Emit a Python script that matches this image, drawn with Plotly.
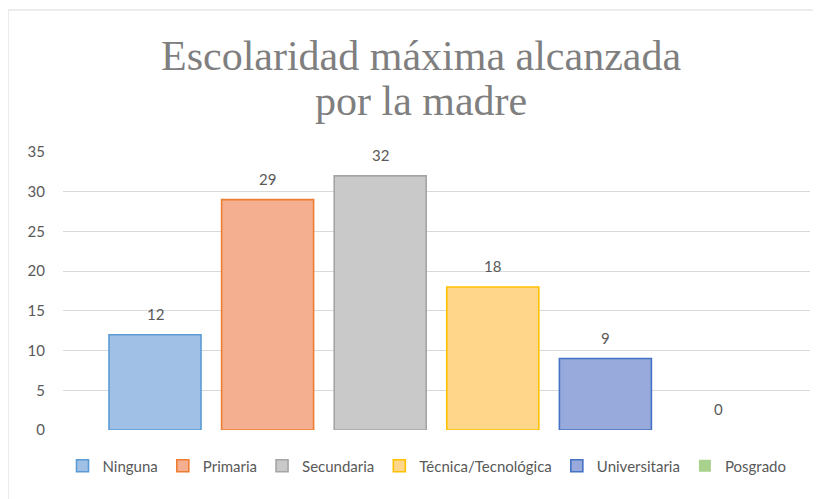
import plotly.graph_objects as go

categories = ["Ninguna", "Primaria", "Secundaria", "Técnica/Tecnológica", "Universitaria", "Posgrado"]
values = [12, 29, 32, 18, 9, 0]
fill_colors = ["#A1C0E5", "#F4AF90", "#C9C9C9", "#FFD68A", "#97AADB", "#A9D18E"]
line_colors = ["#5B9BD5", "#ED7D31", "#A5A5A5", "#FFC000", "#4472C4", "#70AD47"]
y_ticks = [0, 5, 10, 15, 20, 25, 30, 35]
title_lines = ["Escolaridad máxima alcanzada", "por la madre"]

# page has an 8px body margin, so the figure is drawn 8px in from the top-left corner
OFF = 8
W, H = 821 - OFF, 499 - OFF
ml, mt = 63 - OFF, 152 - OFF
mr = W - (810 - OFF)
mb = H - (430 - OFF)
pw, ph = W - ml - mr, H - mt - mb


def px_x(x):  # reference pixel x -> paper x
    return (x - OFF - ml) / pw


def px_y(y):  # reference pixel y -> paper y
    return (H - mb - (y - OFF)) / ph


fig = go.Figure()
for i, (cat, v) in enumerate(zip(categories, values)):
    fig.add_trace(go.Bar(
        x=[cat], y=[v], name=cat,
        marker=dict(color=fill_colors[i], line=dict(color=line_colors[i], width=1.6 if v > 0 else 0)),
        width=0.817,
    ))
    fig.add_annotation(x=cat, y=v, text=str(v), showarrow=False, yshift=21,
                       font=dict(family="Lato, sans-serif", size=15, color="#595959"))

# title as two centered lines
for line, yc in zip(title_lines, [56, 101]):
    fig.add_annotation(xref="paper", yref="paper", x=px_x(421), y=px_y(yc), text=line,
                       showarrow=False, xanchor="center", yanchor="middle",
                       font=dict(family="Liberation Serif, Times New Roman, serif", size=42, color="#7F7F7F"))

# chart border (top and left edges visible)
fig.add_shape(type="line", xref="paper", yref="paper",
              x0=px_x(8), x1=px_x(830), y0=px_y(10), y1=px_y(10),
              line=dict(color="#D9D9D9", width=1))
fig.add_shape(type="line", xref="paper", yref="paper",
              x0=px_x(8), x1=px_x(8), y0=px_y(10), y1=px_y(510),
              line=dict(color="#D9D9D9", width=1))

fig.update_layout(
    width=W, height=H,
    margin=dict(l=ml, r=mr, t=mt, b=mb, autoexpand=False),
    paper_bgcolor="white", plot_bgcolor="white",
    barmode="overlay",
    xaxis=dict(range=[-0.817, 5.817], showticklabels=False, showgrid=False, zeroline=False,
               showline=False, fixedrange=True),
    yaxis=dict(range=[0, 35], tickvals=y_ticks, showgrid=True, gridcolor="#D9D9D9", gridwidth=1,
               zeroline=False, showline=False, ticks="", ticklabelstandoff=17,
               tickfont=dict(family="Lato, sans-serif", size=15, color="#595959")),
    showlegend=True,
    legend=dict(orientation="h", xanchor="center", x=px_x(427), yanchor="middle",
                y=px_y(466), font=dict(family="Lato, sans-serif", size=15, color="#595959"),
                itemwidth=30, tracegroupgap=0),
)

fig.write_html("out.html")
